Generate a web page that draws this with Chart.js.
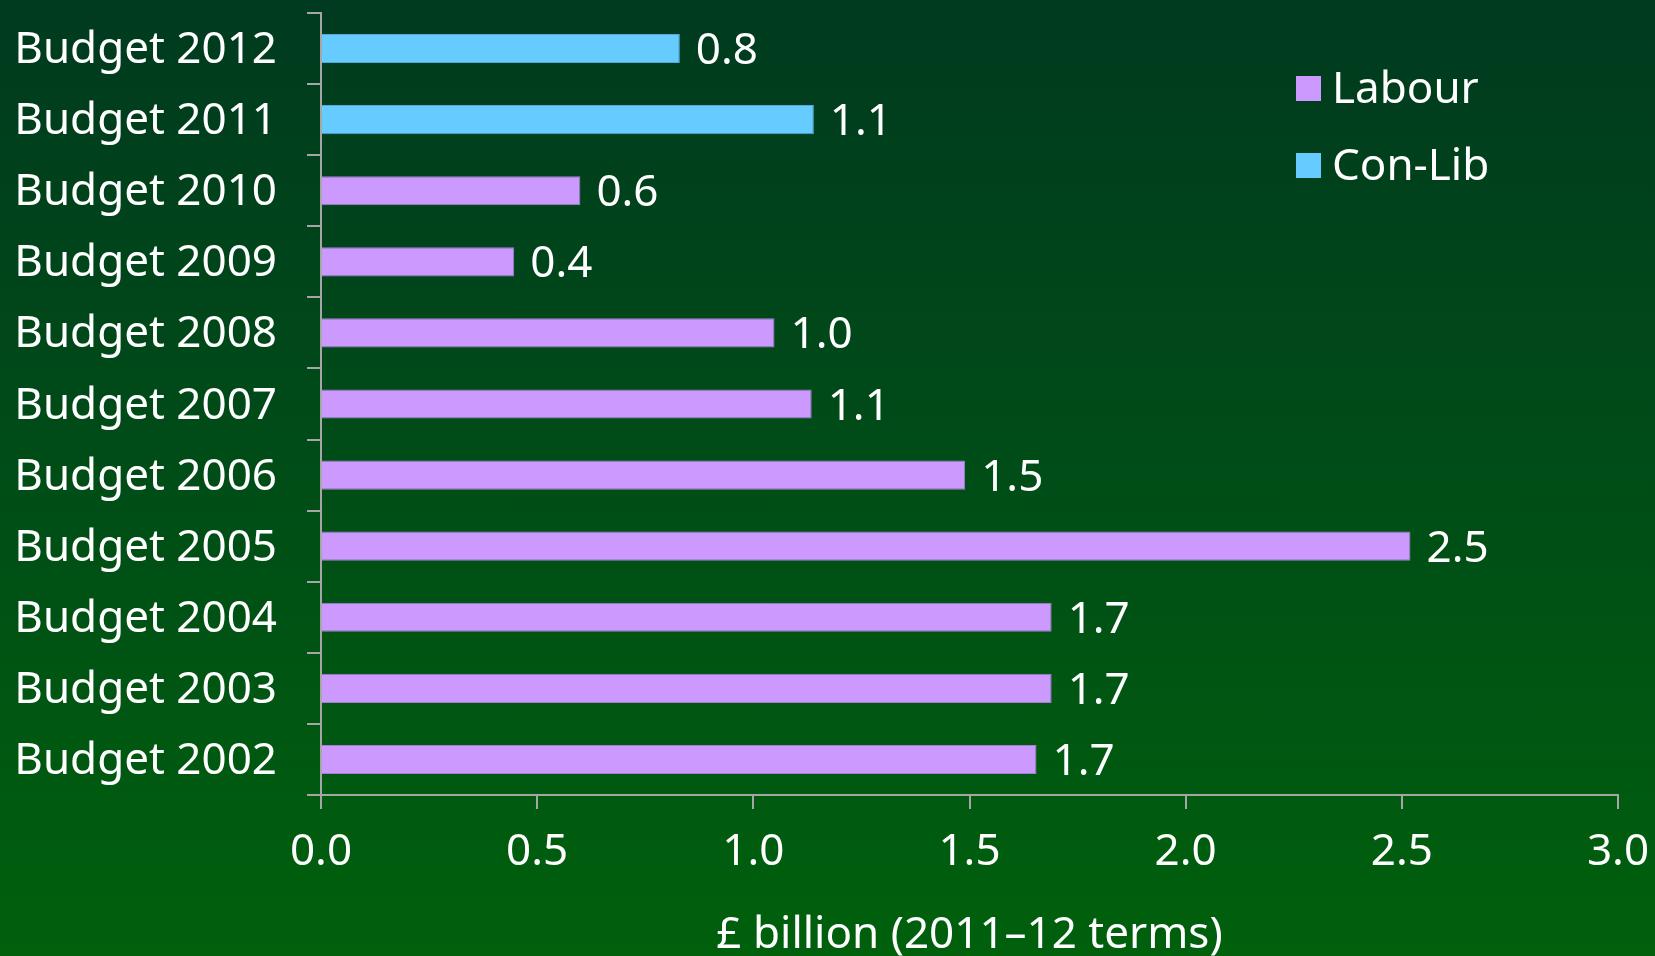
<!DOCTYPE html>
<html>
<head>
<meta charset="utf-8">
<script src="https://cdn.jsdelivr.net/npm/chart.js@4/dist/chart.umd.min.js"></script>
<style>
	html, body { margin: 0; padding: 0; }
	#wrap {
		width: 1655px;
		height: 956px;
		position: relative;
		background: linear-gradient(to bottom, #003a1f 0%, #004d17 50%, #00600c 100%);
	}
</style>
</head>
<body>
<div id="wrap"><canvas id="graphicBudget"></canvas></div>
<script>
var budgets = ['Budget 2012', 'Budget 2011', 'Budget 2010', 'Budget 2009', 'Budget 2008', 'Budget 2007',
	'Budget 2006', 'Budget 2005', 'Budget 2004', 'Budget 2003', 'Budget 2002'];
var labour = [null, null, 0.6, 0.447, 1.049, 1.135, 1.49, 2.52, 1.69, 1.69, 1.655];
var conLib = [0.83, 1.14, null, null, null, null, null, null, null, null, null];
var xTicks = [0, 0.5, 1.0, 1.5, 2.0, 2.5, 3.0];
var seriesNames = ['Labour', 'Con-Lib'];
var seriesColors = ['#cc99ff', '#66ccff'];

var FONT = '"Noto Sans", "Open Sans", sans-serif';

// value at the end of each bar
var valueLabels = {
	id: 'valueLabels',
	afterDatasetsDraw: function(chart) {
		var ctx = chart.ctx;
		ctx.save();
		ctx.font = '44px ' + FONT;
		ctx.fillStyle = '#ffffff';
		ctx.textBaseline = 'middle';
		ctx.textAlign = 'left';
		chart.data.datasets.forEach(function(ds, i) {
			chart.getDatasetMeta(i).data.forEach(function(bar, j) {
				if (ds.data[j] == null) return;
				ctx.fillText(ds.data[j].toFixed(1), bar.x + 16, bar.y + 3);
			});
		});
		ctx.restore();
	}
};

// legend sits inside the plot, top right
var boxLegend = {
	id: 'boxLegend',
	afterDraw: function(chart) {
		var ctx = chart.ctx;
		var area = chart.chartArea;
		var x = area.right - 322;
		var y = area.top + 63;
		ctx.save();
		ctx.font = '44px ' + FONT;
		ctx.textBaseline = 'middle';
		chart.data.datasets.forEach(function(ds, i) {
			var cy = y + i * 77 + 12;
			ctx.fillStyle = ds.backgroundColor;
			ctx.fillRect(x, cy - 12, 25, 25);
			ctx.fillStyle = '#ffffff';
			ctx.fillText(ds.label, x + 36, cy + 2);
		});
		ctx.restore();
	}
};

var ctx = document.getElementById('graphicBudget').getContext('2d');
var graphicBudget = new Chart(ctx, {
	type: 'bar',
	data: {
		labels: budgets,
		datasets: [{
			label: seriesNames[0],
			backgroundColor: seriesColors[0],
			borderColor: '#a27fd0',
			borderWidth: 1,
			data: labour
		},
		{
			label: seriesNames[1],
			backgroundColor: seriesColors[1],
			borderColor: '#52a8d6',
			borderWidth: 1,
			data: conLib
		}]
	},
	options: {
		indexAxis: 'y',
		responsive: true,
		maintainAspectRatio: false,
		animation: false,
		categoryPercentage: 1,
		barPercentage: 0.41,
		layout: { padding: { top: 13, right: 37, left: 15, bottom: 0 } },
		plugins: {
			legend: { display: false },
			tooltip: { enabled: false }
		},
		scales: {
			x: {
				stacked: true,
				min: 0,
				max: 3,
				afterBuildTicks: function(scale) {
					scale.ticks = xTicks.map(function(v) { return { value: v }; });
				},
				afterFit: function(scale) {
					scale.height = 161;
					scale.paddingLeft = 0;
					scale.paddingRight = 0;
				},
				border: { display: true, color: '#a6a6a6', width: 2 },
				grid: { drawOnChartArea: false, drawTicks: true, tickLength: 14, color: '#a6a6a6', lineWidth: 2 },
				ticks: {
					color: '#ffffff',
					padding: 17,
					maxRotation: 0,
					font: { family: FONT, size: 44 },
					callback: function(v) { return Number(v).toFixed(1); }
				},
				title: {
					display: true,
					text: '£ billion (2011–12 terms)',
					color: '#ffffff',
					padding: 0,
					font: { family: FONT, size: 44, lineHeight: 0.95 }
				}
			},
			y: {
				stacked: true,
				afterFit: function(scale) {
					scale.width = 306;
					scale.paddingTop = 0;
					scale.paddingBottom = 0;
				},
				border: { display: true, color: '#a6a6a6', width: 2 },
				grid: { drawOnChartArea: false, drawTicks: true, tickLength: 14, color: '#a6a6a6', lineWidth: 2 },
				ticks: {
					color: '#ffffff',
					padding: 30,
					labelOffset: 2,
					font: { family: FONT, size: 44 }
				}
			}
		}
	},
	plugins: [valueLabels, boxLegend]
});
</script>
</body>
</html>
